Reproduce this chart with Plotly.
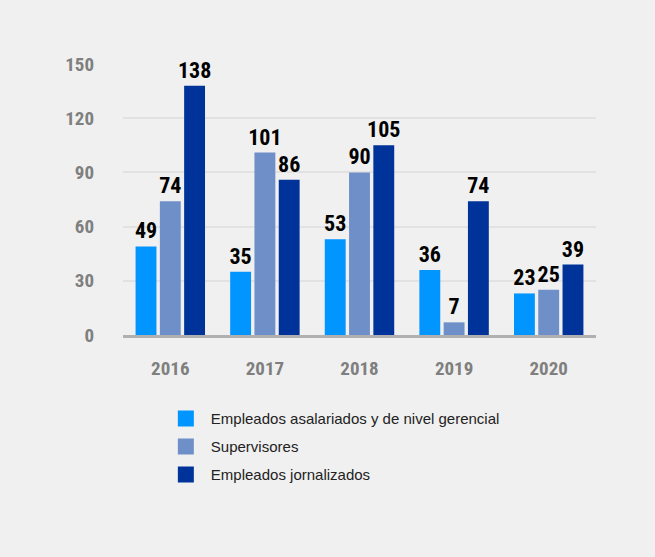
import plotly.graph_objects as go

years = ["2016", "2017", "2018", "2019", "2020"]
asalariados = [49, 35, 53, 36, 23]
supervisores = [74, 101, 90, 7, 25]
jornalizados = [138, 86, 105, 74, 39]

series_names = ["Empleados asalariados y de nivel gerencial", "Supervisores", "Empleados jornalizados"]
colors = ["#0095FF", "#6F8FC8", "#003399"]

FONT = "Liberation Sans Narrow, Roboto Condensed, Arial Narrow, Liberation Sans, Arial, sans-serif"

fig = go.Figure()
for i, (name, vals, col) in enumerate(zip(series_names, [asalariados, supervisores, jornalizados], colors)):
    fig.add_trace(go.Bar(
        x=years, y=vals, name=name, marker=dict(color=col, line=dict(width=0)),
        text=[str(v) for v in vals], textposition="outside", cliponaxis=False,
        constraintext="none", showlegend=False,
        textfont=dict(family=FONT, size=22, color="#000000", weight="bold"),
    ))
    fig.add_trace(go.Scatter(
        x=[None], y=[None], mode="markers", name=name, legendgroup=f"g{i}",
        marker=dict(symbol="square", size=19, color=col, line=dict(width=0)),
        showlegend=True, hoverinfo="skip",
    ))

post = "document.body.style.margin='0';document.body.style.background='#F0F0F0';"

fig.update_layout(
    width=655, height=557,
    paper_bgcolor="#F0F0F0", plot_bgcolor="#F0F0F0",
    margin=dict(l=123, r=59, t=64, b=222),
    barmode="group", bargap=0.23, bargroupgap=0.14,
    showlegend=True,
    legend=dict(
        x=0.08, y=-0.248, xanchor="left", yanchor="top",
        font=dict(family="Liberation Sans, Arial, sans-serif", size=15, color="#222222"),
        bgcolor="rgba(0,0,0,0)", tracegroupgap=5.5, itemsizing="trace", itemwidth=40,
    ),
    xaxis=dict(
        showgrid=False, showline=True, linecolor="#B0B0B0", linewidth=3,
        ticks="", tickfont=dict(family=FONT, size=19, color="#7F7F7F", weight="bold"),
        ticklabelstandoff=14,
    ),
    yaxis=dict(
        range=[0, 150], tickvals=[0, 30, 60, 90, 120, 150],
        showgrid=True, gridcolor="#E2E2E2", gridwidth=2, zeroline=False,
        showline=False, ticks="",
        tickfont=dict(family=FONT, size=19, color="#7F7F7F", weight="bold"),
        ticklabelstandoff=28,
    ),
)

fig.write_html("out.html", post_script=post, config={"displayModeBar": False})
